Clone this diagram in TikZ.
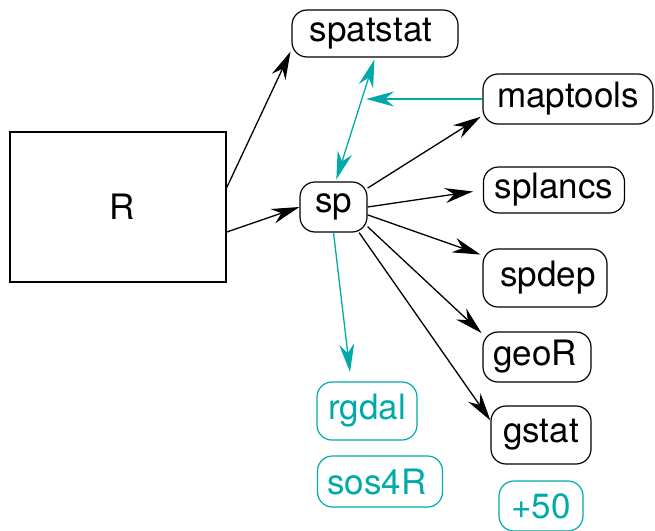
\documentclass[tikz,border=0pt]{standalone}
\usepackage{fontspec}
\setmainfont{TeX Gyre Heros}
\usetikzlibrary{arrows.meta}
\definecolor{tealc}{RGB}{0,170,170}
\tikzset{
  pkg/.style={draw=black, line width=1.2pt, rounded corners=15pt, inner sep=0pt, font=\fontsize{35}{42}\selectfont},
  tpkg/.style={pkg, draw=tealc, text=tealc},
  arr/.style={line width=1.3pt, -{Stealth[length=28pt,width=15pt,inset=9pt]}},
  tarr/.style={arr, draw=tealc, color=tealc},
}
\begin{document}
\begin{tikzpicture}[x=1pt,y=-1pt]
\useasboundingbox (0,0) rectangle (655,530);
\node[draw=black, line width=1.2pt, minimum width=216pt, minimum height=150pt, inner sep=0pt, font=\fontsize{35}{42}\selectfont] (R) at (118,207) {\raisebox{-5pt}{\hspace*{8pt}R}};
\node[pkg, minimum width=166pt, minimum height=47pt] (spatstat) at (375,33.5) {spatstat\hspace*{8pt}};
\node[pkg, minimum width=170pt, minimum height=50pt] (maptools) at (568,99) {maptools};
\node[pkg, minimum width=67pt, minimum height=50pt] (sp) at (333.5,207) {sp};
\node[pkg, minimum width=141pt, minimum height=46pt] (splancs) at (554,190) {splancs};
\node[pkg, minimum width=124pt, minimum height=58pt] (spdep) at (545,278) {\hspace*{6pt}spdep};
\node[pkg, minimum width=108pt, minimum height=50pt] (geoR) at (537,357) {geoR\hspace*{4pt}};
\node[pkg, minimum width=100pt, minimum height=58pt] (gstat) at (541,435) {\raisebox{-3pt}{gstat}};
\node[tpkg, minimum width=100pt, minimum height=58pt] (rgdal) at (367,411) {rgdal};
\node[tpkg, minimum width=125pt, minimum height=51pt] (sos4R) at (380,481.5) {sos4R\hspace*{6pt}};
\node[tpkg, minimum width=84pt, minimum height=50pt] (plus50) at (541,506) {+50};
\coordinate (rgdalend) at (350,372);
\coordinate (mapend) at (366,99);
% black arrows
\draw[arr, shorten >=2pt] (R.10) -- (spatstat.191);
\draw[arr] (R.-13) -- (sp.west);
\draw[arr, shorten >=2pt] (sp.29) -- (maptools.191);
\draw[arr, shorten >=10pt] (sp.east) -- (splancs.west);
\draw[arr, shorten >=2pt] (sp.-13) -- (spdep.160);
\draw[arr, shorten >=1pt] (sp.-30) -- (geoR.157);
\draw[arr] (sp.-45) -- (gstat.164);
% teal arrows
\draw[tarr, {Stealth[length=28pt,width=15pt,inset=9pt]}-{Stealth[length=28pt,width=15pt,inset=9pt]}, shorten >=2pt, shorten <=2pt] (sp.85) -- (spatstat.south);
\draw[tarr] (maptools.west) -- (mapend);
\draw[tarr] (sp.south) -- (rgdalend);
\end{tikzpicture}
\end{document}
